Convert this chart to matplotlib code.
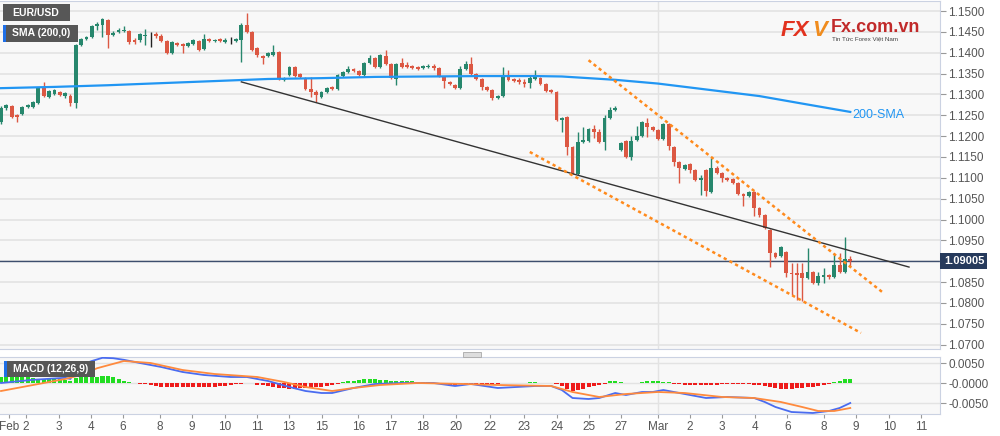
import matplotlib
matplotlib.use("Agg")
import matplotlib.pyplot as plt
from matplotlib.patches import Rectangle
import numpy as np

plt.rcParams['font.family'] = ['Liberation Sans', 'DejaVu Sans']

# EUR/USD 4h candles
opens = [1.1234, 1.1267, 1.1272, 1.1251, 1.1253, 1.1270, 1.1270, 1.1279, 1.1315, 1.1294,
         1.1301, 1.1306, 1.1296, 1.1296, 1.1279, 1.1418, 1.1433, 1.1438, 1.1464, 1.1466,
         1.1478, 1.1442, 1.1450, 1.1452, 1.1452, 1.1430, 1.1430, 1.1440, 1.1442, 1.1445,
         1.1440, 1.1428, 1.1399, 1.1423, 1.1421, 1.1416, 1.1421, 1.1428, 1.1409, 1.1433,
         1.1428, 1.1433, 1.1426, 1.1430, 1.1428, 1.1430, 1.1466, 1.1450, 1.1411, 1.1392,
         1.1392, 1.1394, 1.1402, 1.1335, 1.1347, 1.1366, 1.1349, 1.1339, 1.1313, 1.1306,
         1.1294, 1.1306, 1.1318, 1.1313, 1.1344, 1.1354, 1.1361, 1.1356, 1.1347, 1.1375,
         1.1387, 1.1366, 1.1392, 1.1373, 1.1337, 1.1375, 1.1371, 1.1368, 1.1366, 1.1363,
         1.1366, 1.1368, 1.1363, 1.1342, 1.1330, 1.1323, 1.1315, 1.1361, 1.1373, 1.1349,
         1.1337, 1.1318, 1.1311, 1.1291, 1.1296, 1.1344, 1.1337, 1.1335, 1.1330, 1.1327,
         1.1337, 1.1339, 1.1325, 1.1311, 1.1306, 1.1239, 1.1246, 1.1174, 1.1109, 1.1186,
         1.1188, 1.1217, 1.1210, 1.1186, 1.1243, 1.1263, 1.1167, 1.1188, 1.1150, 1.1191,
         1.1200, 1.1231, 1.1222, 1.1215, 1.1193, 1.1229, 1.1174, 1.1138, 1.1121, 1.1133,
         1.1119, 1.1095, 1.1119, 1.1066, 1.1124, 1.1112, 1.1100, 1.1097, 1.1088, 1.1061,
         1.1056, 1.1066, 1.1028, 1.1011, 1.0975, 1.0920, 1.0912, 1.0922, 1.0872, 1.0872,
         1.0872, 1.0860, 1.0874, 1.0848, 1.0862, 1.0867, 1.0862, 1.0891, 1.0874, 1.0905]
highs = [1.1272, 1.1277, 1.1275, 1.1253, 1.1272, 1.1277, 1.1284, 1.1318, 1.1330, 1.1311,
         1.1313, 1.1308, 1.1306, 1.1301, 1.1421, 1.1435, 1.1440, 1.1466, 1.1474, 1.1483,
         1.1481, 1.1452, 1.1459, 1.1464, 1.1454, 1.1435, 1.1447, 1.1457, 1.1450, 1.1450,
         1.1445, 1.1430, 1.1428, 1.1426, 1.1423, 1.1426, 1.1433, 1.1430, 1.1445, 1.1435,
         1.1433, 1.1435, 1.1435, 1.1438, 1.1435, 1.1471, 1.1495, 1.1452, 1.1414, 1.1394,
         1.1402, 1.1418, 1.1404, 1.1342, 1.1368, 1.1368, 1.1351, 1.1342, 1.1342, 1.1311,
         1.1308, 1.1318, 1.1320, 1.1349, 1.1356, 1.1368, 1.1363, 1.1359, 1.1378, 1.1394,
         1.1390, 1.1397, 1.1406, 1.1375, 1.1375, 1.1387, 1.1378, 1.1371, 1.1368, 1.1371,
         1.1373, 1.1373, 1.1366, 1.1344, 1.1332, 1.1325, 1.1368, 1.1380, 1.1390, 1.1351,
         1.1339, 1.1320, 1.1313, 1.1299, 1.1366, 1.1359, 1.1339, 1.1339, 1.1337, 1.1344,
         1.1359, 1.1342, 1.1327, 1.1313, 1.1308, 1.1246, 1.1248, 1.1176, 1.1210, 1.1222,
         1.1219, 1.1227, 1.1217, 1.1251, 1.1270, 1.1272, 1.1186, 1.1191, 1.1200, 1.1224,
         1.1236, 1.1243, 1.1224, 1.1217, 1.1231, 1.1231, 1.1176, 1.1140, 1.1133, 1.1135,
         1.1121, 1.1107, 1.1121, 1.1147, 1.1128, 1.1114, 1.1102, 1.1100, 1.1090, 1.1064,
         1.1068, 1.1068, 1.1030, 1.1013, 1.0977, 1.0922, 1.0936, 1.0924, 1.0896, 1.0896,
         1.0896, 1.0932, 1.0877, 1.0874, 1.0884, 1.0869, 1.0920, 1.0920, 1.0958, 1.0912]
lows = [1.1229, 1.1263, 1.1243, 1.1234, 1.1251, 1.1267, 1.1267, 1.1277, 1.1294, 1.1291,
        1.1299, 1.1296, 1.1291, 1.1272, 1.1267, 1.1416, 1.1430, 1.1435, 1.1454, 1.1438,
        1.1411, 1.1440, 1.1447, 1.1450, 1.1421, 1.1421, 1.1426, 1.1418, 1.1414, 1.1435,
        1.1426, 1.1397, 1.1397, 1.1416, 1.1399, 1.1414, 1.1418, 1.1404, 1.1406, 1.1426,
        1.1426, 1.1426, 1.1423, 1.1421, 1.1426, 1.1378, 1.1447, 1.1404, 1.1390, 1.1373,
        1.1390, 1.1392, 1.1335, 1.1332, 1.1344, 1.1342, 1.1339, 1.1311, 1.1294, 1.1282,
        1.1291, 1.1303, 1.1311, 1.1311, 1.1342, 1.1351, 1.1354, 1.1344, 1.1344, 1.1373,
        1.1363, 1.1363, 1.1371, 1.1337, 1.1323, 1.1363, 1.1363, 1.1361, 1.1359, 1.1361,
        1.1363, 1.1359, 1.1342, 1.1315, 1.1323, 1.1313, 1.1313, 1.1359, 1.1347, 1.1335,
        1.1311, 1.1308, 1.1287, 1.1289, 1.1294, 1.1332, 1.1330, 1.1325, 1.1318, 1.1315,
        1.1335, 1.1323, 1.1306, 1.1303, 1.1236, 1.1210, 1.1155, 1.1109, 1.1107, 1.1183,
        1.1186, 1.1195, 1.1183, 1.1167, 1.1241, 1.1260, 1.1164, 1.1147, 1.1143, 1.1188,
        1.1198, 1.1198, 1.1212, 1.1191, 1.1191, 1.1167, 1.1128, 1.1088, 1.1119, 1.1112,
        1.1092, 1.1059, 1.1056, 1.1064, 1.1109, 1.1090, 1.1092, 1.1085, 1.1059, 1.1032,
        1.1054, 1.1008, 1.1006, 1.0977, 1.0886, 1.0908, 1.0910, 1.0862, 1.0819, 1.0807,
        1.0805, 1.0857, 1.0845, 1.0843, 1.0848, 1.0857, 1.0860, 1.0872, 1.0872, 1.0889]
closes = [1.1267, 1.1275, 1.1246, 1.1246, 1.1270, 1.1275, 1.1282, 1.1315, 1.1296, 1.1308,
          1.1311, 1.1299, 1.1303, 1.1279, 1.1418, 1.1433, 1.1438, 1.1464, 1.1469, 1.1481,
          1.1442, 1.1447, 1.1454, 1.1454, 1.1426, 1.1426, 1.1445, 1.1442, 1.1442, 1.1440,
          1.1428, 1.1399, 1.1426, 1.1418, 1.1416, 1.1423, 1.1430, 1.1406, 1.1433, 1.1428,
          1.1430, 1.1428, 1.1430, 1.1430, 1.1433, 1.1466, 1.1450, 1.1406, 1.1394, 1.1387,
          1.1399, 1.1402, 1.1337, 1.1339, 1.1366, 1.1344, 1.1342, 1.1313, 1.1306, 1.1299,
          1.1306, 1.1315, 1.1313, 1.1347, 1.1354, 1.1361, 1.1356, 1.1347, 1.1375, 1.1387,
          1.1366, 1.1394, 1.1373, 1.1339, 1.1373, 1.1366, 1.1366, 1.1363, 1.1361, 1.1368,
          1.1368, 1.1363, 1.1344, 1.1332, 1.1325, 1.1315, 1.1361, 1.1373, 1.1349, 1.1337,
          1.1318, 1.1311, 1.1291, 1.1296, 1.1344, 1.1335, 1.1332, 1.1330, 1.1325, 1.1339,
          1.1342, 1.1325, 1.1308, 1.1306, 1.1239, 1.1243, 1.1174, 1.1112, 1.1186, 1.1191,
          1.1217, 1.1210, 1.1186, 1.1243, 1.1263, 1.1267, 1.1183, 1.1150, 1.1188, 1.1200,
          1.1234, 1.1222, 1.1215, 1.1193, 1.1229, 1.1176, 1.1138, 1.1124, 1.1131, 1.1119,
          1.1095, 1.1100, 1.1068, 1.1124, 1.1112, 1.1100, 1.1095, 1.1088, 1.1061, 1.1056,
          1.1066, 1.1028, 1.1011, 1.0980, 1.0920, 1.0910, 1.0934, 1.0872, 1.0869, 1.0867,
          1.0860, 1.0874, 1.0848, 1.0865, 1.0867, 1.0862, 1.0891, 1.0874, 1.0905, 1.0900]

last_price = 1.09005

# 200 SMA (candle index, value)
sma_idx = [0, 10, 20, 30, 40, 50, 60, 70, 80, 90, 100, 105, 110, 115, 123, 130, 142, 150, 159]
sma_val = [1.1315, 1.1318, 1.1322, 1.1327, 1.1332, 1.1337, 1.1339, 1.1342, 1.1343, 1.1344,
           1.1344, 1.1343, 1.1339, 1.1335, 1.1326, 1.1315, 1.1296, 1.1278, 1.1258]

# drawn lines (candle index, price)
trend_idx = [45, 170]
trend_val = [1.1330, 1.0886]
upper_idx = [110, 165]
upper_val = [1.1382, 1.0826]
lower_idx = [99, 161]
lower_val = [1.1162, 1.0728]

# MACD (12,26,9)
macd_idx = [0, 6, 12, 13, 14, 17, 19, 21, 23, 26, 30, 34, 38, 43, 46, 50, 54, 57, 60, 62,
            66, 70, 75, 81, 85, 88, 93, 100, 103, 105, 107, 110, 112, 115, 117, 120, 122,
            124, 127, 132, 136, 141, 143, 145, 148, 152, 155, 157, 159]
macd_val = [0.0, 0.0008, 0.0013, 0.0010, 0.0040, 0.0055, 0.0063, 0.0062, 0.0058, 0.0050,
            0.0040, 0.00275, 0.0020, 0.0015, 0.0015, 0.0005, -0.0010, -0.0020, -0.0025,
            -0.0025, -0.00125, -0.00025, 0.0, 0.0, -0.00075, -0.00025, -0.00125, -0.00075,
            -0.00075, -0.00175, -0.00375, -0.0040, -0.00375, -0.0025, -0.0030, -0.00225,
            -0.00225, -0.00175, -0.0025, -0.00375, -0.0035, -0.00375, -0.00475, -0.0060,
            -0.00725, -0.0075, -0.0070, -0.00625, -0.0050]
signal_idx = [0, 6, 12, 15, 18, 23, 28, 34, 40, 48, 53, 57, 62, 66, 71, 78, 87, 93, 103,
              107, 112, 117, 123, 128, 135, 141, 146, 150, 153, 156, 159]
signal_val = [-0.0020, -0.0005, 0.0010, 0.0020, 0.0037, 0.0055, 0.0050, 0.00325, 0.00225,
              0.0015, 0.00025, -0.0010, -0.0020, -0.00125, -0.0005, 0.0, -0.00025, -0.0005,
              -0.00075, -0.00225, -0.0035, -0.00275, -0.00225, -0.0025, -0.0035, -0.00375,
              -0.00475, -0.0060, -0.0070, -0.0070, -0.00625]
hist = [16, 16, 15, 15, 14, 14, 12, 11, 11, 10, 10, 9, 8, 4, 12, 14, 15, 16, 16, 18, 17, 14, 9, 5, 2,
        -1, -2, -3, -4, -8, -9, -10, -10, -11, -11, -11, -10, -10, -10, -9, -9, -8, -7, -6,
        -3, -2, -1, -1,
        -4, -6, -8, -10, -12, -13, -14, -14, -13, -13, -12, -11, -10, -8, -6, -3,
        2, 4, 6, 8, 10, 10, 9, 8, 7, 6, 5, 5, 4, 4, 3, 3, 2, 1,
        -2, -3, -4, -4, -3, -3, -4, -4, -3, -3, -2, -2,
        -1, -1, 0, 1, 1, 2, 2, 1, 1, 0,
        -3, -8, -14, -19, -18, -15, -11, -7, -5, -3,
        4, 6, 3, 1, 0, -1,
        3, 4, 4, 4, 3, 2,
        -2, -3, -4, -5, -5, -5, -4, -4, -4, -3, -3, -3, -3, -3, -3, -4,
        -6, -8, -11, -13, -14, -14, -14, -13, -12, -11, -9, -7, -5, -3,
        3, 6, 9, 11]
hist = np.array(hist) * 0.0001

tick_pos = [1.5, 4.7, 10.9, 16.9, 22.8, 29.8, 35.8, 41.9, 47.9, 53.9, 60.1, 66.9, 73.0, 79.0,
            85.2, 91.6, 97.9, 104.1, 110.1, 116.1, 123.0, 129.0, 135.0, 141.2, 147.2, 154.1,
            160.1, 166.3, 172.3]
tick_lab = ['Feb', '2', '3', '4', '6', '8', '9', '10', '11', '13', '15', '16', '17', '18',
            '20', '22', '23', '24', '25', '27', 'Mar', '2', '3', '4', '6', '8', '9', '10', '11']

GREEN = '#27876d'
RED = '#dc5843'
GRID = '#e3e3e3'
BG = '#f8f8f8'
EDGE = '#cbd2e2'
TXT = '#555555'

fig = plt.figure(figsize=(10, 4.36), dpi=100)
fig.patch.set_facecolor('white')
H = 436.0
ax = fig.add_axes([0, 1 - 349 / H, 0.94, 348 / H])
ax2 = fig.add_axes([0, 1 - 414 / H, 0.94, 57 / H], sharex=ax)

for a in (ax, ax2):
    a.set_facecolor(BG)
    a.spines['left'].set_visible(False)
    for s in ('top', 'right', 'bottom'):
        a.spines[s].set_color(EDGE)
    a.yaxis.tick_right()
    a.tick_params(axis='y', length=4, color='#999999', labelcolor=TXT, labelsize=8.5, pad=2)
    a.axvline(123, color=GRID, lw=1, zorder=0)

# candles
x = np.arange(len(closes))
for i in x:
    o, h, l, c = opens[i], highs[i], lows[i], closes[i]
    col = GREEN if c > o else (RED if c < o else '#222222')
    ax.vlines(i, l, h, color=col, lw=1, zorder=3)
    body = max(abs(c - o), 0.00008)
    ax.bar(i, body, bottom=min(o, c), width=0.72, color=col, zorder=4, linewidth=0)

ax.plot(sma_idx, sma_val, color='#2196f3', lw=1.6, zorder=5)
ax.text(159.3, 1.1251, '200-SMA', color='#2196f3', fontsize=9, va='center', ha='left')
ax.plot(trend_idx, trend_val, color='#333333', lw=1.0, zorder=5)
for xi, yv in ((upper_idx, upper_val), (lower_idx, lower_val)):
    ax.plot(xi, yv, color='#ff8a1c', lw=1.8, ls=(0, (1.3, 1.3)), zorder=5)

ax.axhline(last_price, color='#3e4f6e', lw=1, zorder=2)
yt = np.round(np.arange(1.07, 1.15001, 0.005), 4)
ax.set_yticks(yt, ['' if abs(v - 1.09) < 1e-6 else f'{v:.4f}' for v in yt])
ax.yaxis.grid(True, color=GRID, lw=1.2)
ax.set_axisbelow(True)
ax.set_ylim(1.06895, 1.1524)
ax.set_xlim(-0.19, 175.8)
ax.tick_params(axis='x', bottom=False, labelbottom=False)
ax.text(1.004, last_price, '1.09005', transform=ax.get_yaxis_transform(), ha='left',
        va='center', color='white', fontsize=8, fontweight='bold', zorder=10,
        bbox=dict(boxstyle='square,pad=0.3', fc='#263a5c', ec='none'))

# MACD panel
cols = np.where(hist >= 0, '#22dd22', '#ee1b1b')
ax2.bar(x, hist, width=0.75, color=cols, linewidth=0, zorder=2)
ax2.plot(macd_idx, macd_val, color='#4a6cf0', lw=1.3, zorder=3)
ax2.plot(signal_idx, signal_val, color='#ff8a3d', lw=1.3, zorder=3)
ax2.set_ylim(-0.00775, 0.0065)
ax2.set_yticks([0.005, 0.0, -0.005], ['0.0050', '-0.0000', '-0.0050'])
ax2.yaxis.grid(True, color=GRID, lw=1)
ax2.set_axisbelow(True)
ax2.set_xticks(tick_pos, tick_lab)
ax2.tick_params(axis='x', length=3, color='#999999', labelcolor=TXT, labelsize=8.5, pad=2)

# label boxes
def label_box(x0, y0, w, h, text, stripe=False):
    fig.patches.append(Rectangle((x0 / 1000, 1 - (y0 + h) / H), w / 1000, h / H,
                                 transform=fig.transFigure, fc='#575757', ec='none', zorder=20))
    if stripe:
        fig.patches.append(Rectangle((x0 / 1000, 1 - (y0 + h) / H), 2.5 / 1000, h / H,
                                     transform=fig.transFigure, fc='#1e6fe8', ec='none', zorder=21))
    fig.text((x0 + 9) / 1000, 1 - (y0 + h / 2) / H, text, color='white', fontsize=7.5,
             fontweight='bold', va='center', ha='left', zorder=22)

label_box(3, 4, 67, 17, 'EUR/USD')
label_box(3, 25, 75, 17, 'SMA (200,0)', stripe=True)
label_box(4, 361, 91, 16, 'MACD (12,26,9)', stripe=True)

# panel handle
fig.patches.append(Rectangle((463 / 1000, 1 - 357 / H), 18 / 1000, 5 / H, transform=fig.transFigure,
                             fc='#dddddd', ec='#a8a8a8', lw=0.6))

# logo
fig.text(0.781, 1 - 30 / H, 'FX', color='#e2321f', fontsize=16, fontweight='bold',
         fontstyle='italic', va='center', ha='left')
fig.text(0.812, 1 - 30 / H, 'V', color='#f08c1e', fontsize=16, fontweight='bold',
         fontstyle='italic', va='center', ha='left')
fig.text(0.831, 1 - 27 / H, 'Fx.com.vn', color='#c12a2a', fontsize=13, fontweight='bold',
         va='center', ha='left')
fig.text(0.832, 1 - 38.5 / H, 'Tin Tức Forex Việt Nam', color='#444444', fontsize=4.5,
         va='center', ha='left')

fig.savefig('out.png', dpi=100, facecolor='white')
